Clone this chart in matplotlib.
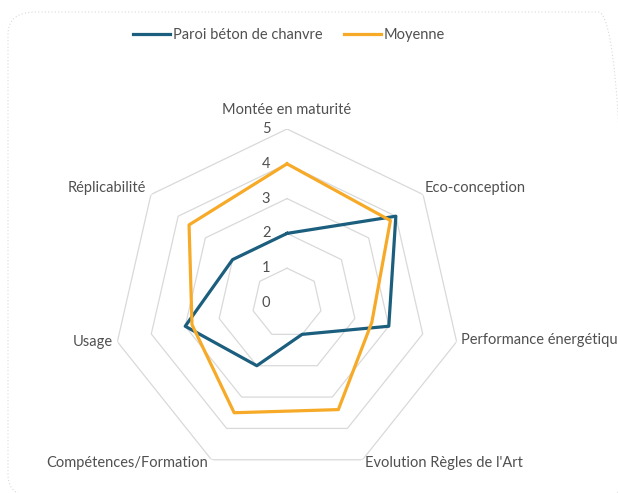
import numpy as np
import matplotlib.pyplot as plt
from matplotlib.patches import FancyBboxPatch

plt.rcParams['font.family'] = ['Lato', 'DejaVu Sans']

categories = ["Montée en maturité", "Eco-conception", "Performance énergétique",
              "Evolution Règles de l'Art", "Compétences/Formation", "Usage",
              "Réplicabilité"]
paroi = [2, 4, 3, 1, 2, 3, 2]
moyenne = [4, 3.8, 2.5, 3.4, 3.5, 2.8, 3.6]
levels = [0, 1, 2, 3, 4, 5]

text_col = '#505050'
blue = '#1b5e7e'
orange = '#f7aa27'

n = len(categories)
theta = np.linspace(0, 2 * np.pi, n, endpoint=False)
theta_closed = np.append(theta, theta[0])

fig = plt.figure(figsize=(6.18, 4.93), dpi=100)

# card border (bottom edge runs just below the picture)
card = FancyBboxPatch((8 / 618, -4 / 493), 618 / 618, 485 / 493,
                      boxstyle="round,pad=0,rounding_size=0.045",
                      transform=fig.transFigure, facecolor='none',
                      edgecolor='#d9d9d9', linestyle=(0, (1, 2)), lw=0.8,
                      clip_on=False)
fig.patches.append(card)

ax = fig.add_axes([113 / 618, 16 / 493, 348 / 618, 348 / 493], projection='polar')
ax.set_theta_offset(np.pi / 2)
ax.set_theta_direction(-1)
ax.set_ylim(0, 5)
ax.grid(False)
ax.spines['polar'].set_visible(False)
ax.set_xticks([])
ax.set_yticks([])
ax.patch.set_alpha(0)

for lv in levels[1:]:
    ax.plot(theta_closed, [lv] * (n + 1), color='#d9d9d9', lw=0.9, zorder=1)

for lv in levels:
    ax.annotate(str(lv), xy=(0, lv), xytext=(-15, 0), textcoords='offset points',
                ha='center', va='center', fontsize=10.5, color=text_col)

ax.plot(theta_closed, paroi + paroi[:1], color=blue, lw=2.3, zorder=3,
        label='Paroi béton de chanvre')
ax.plot(theta_closed, moyenne + moyenne[:1], color=orange, lw=2.3, zorder=3,
        label='Moyenne')

offsets = [(0, 14, 'center'), (1.5, 4.5, 'left'), (3.5, 1.5, 'left'),
           (2, -2.5, 'left'), (-2.5, -2.5, 'right'), (-3.5, 0, 'right'),
           (-3.5, 4.5, 'right')]
for t, lab, (dx, dy, ha) in zip(theta, categories, offsets):
    ax.annotate(lab, xy=(t, 5), xytext=(dx, dy), textcoords='offset points',
                ha=ha, va='center', fontsize=10.5, color=text_col,
                annotation_clip=False)

fig.legend(loc='center', bbox_to_anchor=(289 / 618, 1 - 35 / 493), ncol=2,
           frameon=False, fontsize=10.5, handlelength=2.5, handletextpad=0.2,
           columnspacing=1.5, labelcolor=text_col)

fig.savefig('out.png', dpi=100)
